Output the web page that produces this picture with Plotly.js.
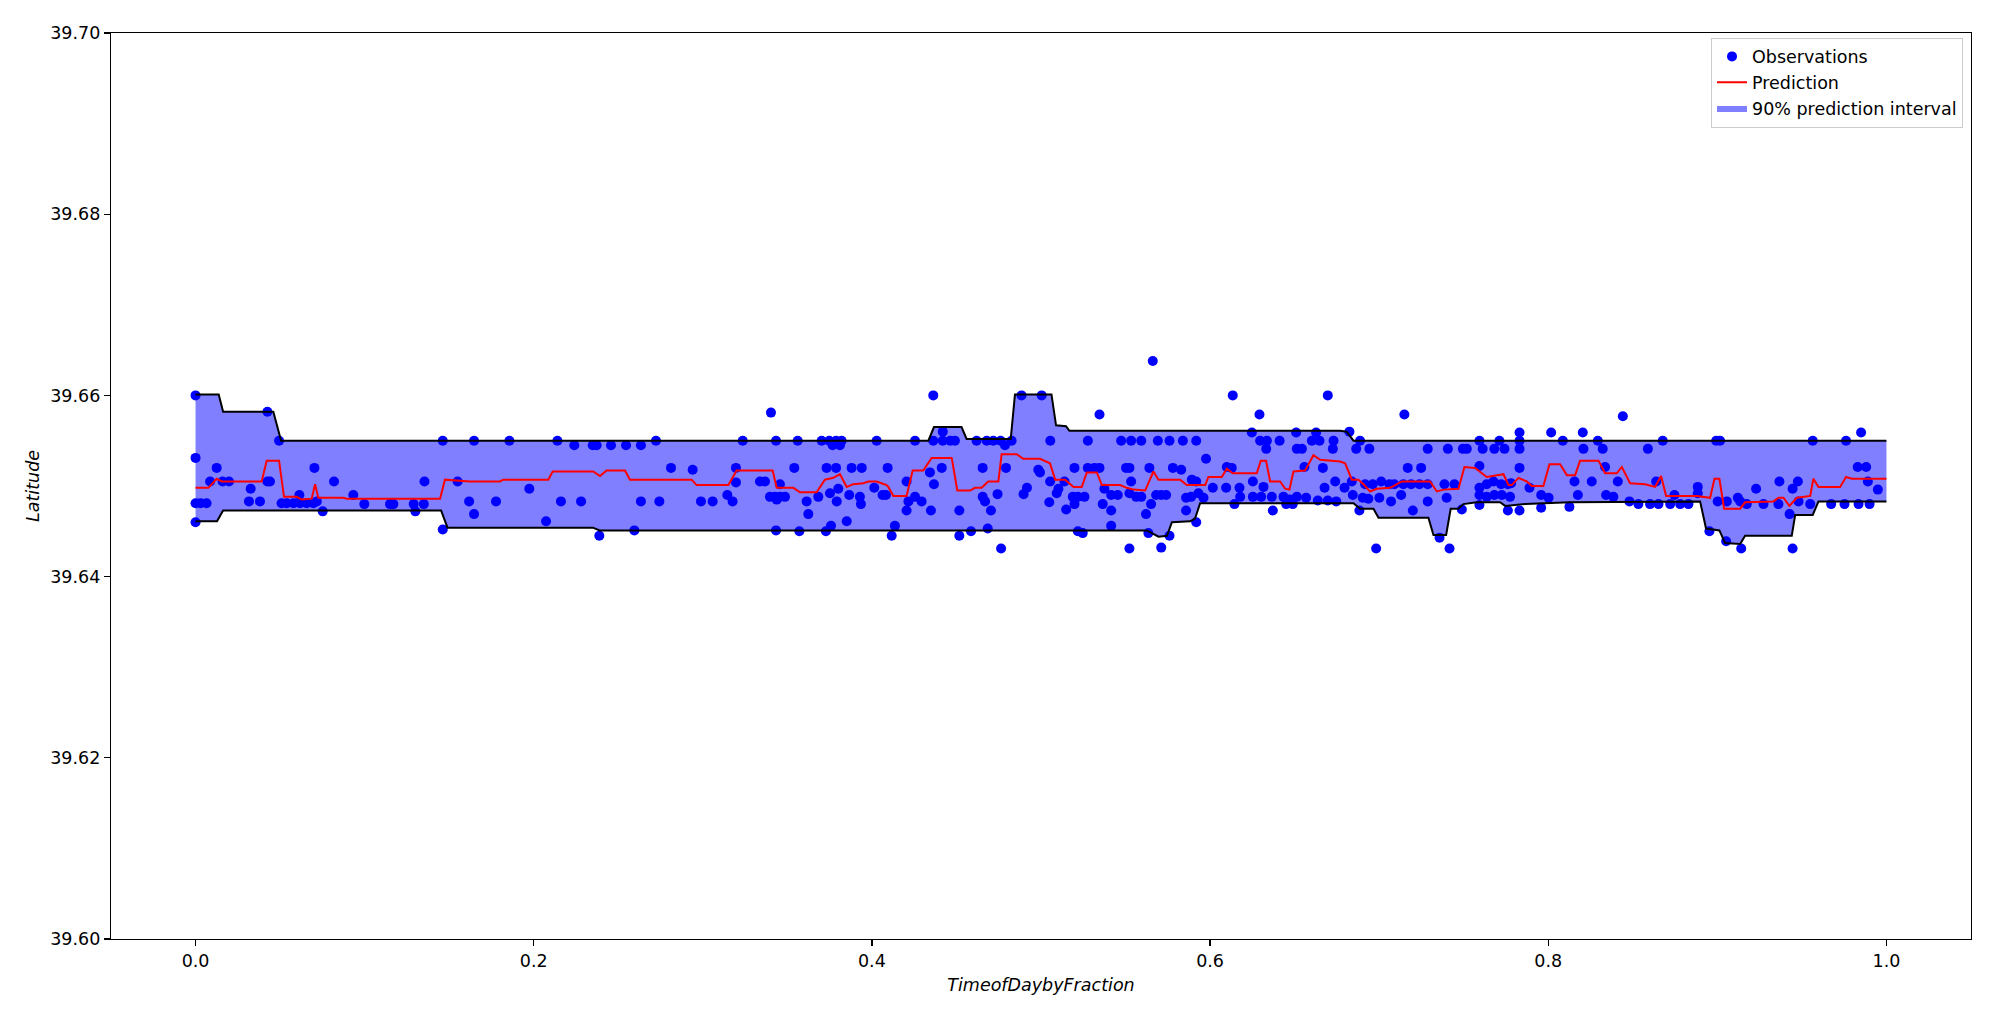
<!DOCTYPE html>
<html>
<head>
<meta charset="utf-8">
<script src="https://cdn.plot.ly/plotly-3.0.1.min.js"></script>
<style>html,body{margin:0;padding:0;background:#fff;}#chart{width:1994px;height:1016px;}</style>
</head>
<body>
<div id="chart"></div>
<script>
// Observations
const obsX = [
0,0,0,0.003,0.0065,0,0.0086,0.0125,0.016,0.0198,0.0316,0.0381,0.0326,0.0425,0.0425,0.044,0.0494,
0.0509,0.0539,0.0579,0.0614,0.0618,0.0657,0.0697,0.0717,0.0703,0.0752,0.0819,0.0933,0.0998,0.115,0.117,
0.129,0.135,0.130,0.1354,0.1462,0.1462,0.155,0.1618,
0.1647,0.1856,0.2140,0.2240,0.2349,0.2372,0.2457,0.2546,0.2634,0.2723,0.3236,0.2812,0.2940,0.3196,0.3196,
0.1974,0.1777,0.2161,0.2280,0.2634,0.2743,0.2989,0.3058,0.3145,0.3176,0.1647,0.2073,0.2388,0.2595,
0.3403,0.3433,0.3561,0.3703,0.3748,0.3788,0.3821,0.4028,0.4255,0.3811,0.3768,0.4363,0.4419,0.4419,0.4463,
0.4491,0.4363,0.4619,0.4679,0.4718,0.4761,0.4787,0.4826,0.4885,0.5004,0.5055,
0.3541,0.3732,0.3788,0.3880,0.3940,0.4093,0.4413,0.4655,0.4793,0.4984,0.4994,
0.3338,0.3368,0.3456,0.4205,0.4343,0.4367,
0.3397,0.3427,0.3456,0.3486,0.3437,0.3614,0.3683,0.3752,0.3801,0.3792,0.3866,0.3929,0.3935,0.4014,0.4063,
0.4083,0.4216,0.4255,0.4294,0.4205,0.4349,0.4517,0.4655,0.4669,0.4704,0.4743,0.4897,0.4917,0.5049,
0.3624,0.3851,0.3758,0.3433,0.3571,0.3728,0.4136,0.4117,0.4517,0.4586,0.4685,0.4764,
0.5661,0.5346,0.6134,0.6292,0.6696,0.6247,0.6509,0.6627,
0.5277,0.5474,0.5533,0.5593,0.5691,0.5760,0.5839,0.5918,0.6296,0.6336,0.6411,0.6602,0.6647,0.6730,
0.6332,0.6513,0.6543,0.6726,0.5976,
0.5198,0.5277,0.5316,0.5346,0.5503,0.5523,0.5641,0.5780,0.5829,0.6099,0.6128,0.6558,0.6667,
0.5054,0.5103,0.5139,0.5533,0.5892,0.5918,0.6253,0.6740,
0.5093,0.5188,0.5218,0.5257,0.5375,0.5415,0.5454,0.5523,0.5563,0.5593,0.5681,0.5711,0.5740,0.5858,0.5888,
0.5931,0.5961,0.6016,0.6095,0.6174,0.6178,0.6253,0.6302,0.6316,0.6365,0.6434,0.6470,0.6513,0.6568,0.6637,
0.6677,0.6696,
0.5198,0.5365,0.5651,0.6144,0.6450,0.6489,0.6746,
0.5149,0.5415,0.5621,0.5858,0.6371,
0.5415,0.5918,0.5218,0.5247,0.5635,0.5760,0.5523,0.5711,
0.7149,0.8441,0.6824,0.7830,0.8017,0.8204,
0.6887,0.7593,0.7711,0.8086,0.8293,0.7830,
0.6864,0.6942,0.7287,0.7406,0.7495,0.7518,0.7612,0.7681,0.7741,0.7830,0.8208,0.8322,
0.7169,0.7248,0.7593,0.7830,0.8336,
0.6795,0.6838,0.6917,0.6962,0.7012,0.7061,0.7090,0.7143,0.7189,0.7238,0.7287,0.7386,0.7445,0.7593,0.7636,
0.7676,0.7721,0.7761,0.7780,0.7889,0.8155,0.8257,0.8411,
0.6844,0.6903,0.6936,0.7001,0.7070,0.7130,0.7287,0.7399,0.7593,0.7636,0.7681,0.7725,0.7774,0.7958,0.8002,
0.8175,0.8342,0.8385,0.8480,
0.6883,0.7199,0.7489,0.7761,0.7830,0.7958,0.8125,0.7593,
0.7357,0.6982,0.7416,
0.9850,0.8677,0.8993,0.9016,0.9564,0.9761,0.8589,0.9830,0.9880,0.8638,0.9367,0.9476,0.9890,0.8884,0.9229,
0.9445,0.9949,0.8884,
0.8533,0.8602,0.8652,0.8721,0.8780,0.8829,0.9002,0.9056,0.9121,0.9135,0.9174,0.9273,0.9361,0.9480,0.9549,
0.9673,0.9752,0.9835,0.9900,0.8746,
0.9427,0.8953,0.9052,0.9141,0.9445
];
const obsY = [
39.660,39.6531,39.6481,39.6481,39.6481,39.6460,39.6505,39.652,39.6505,39.6505,39.6483,39.6483,39.6497,39.6582,39.6505,39.6505,39.655,
39.6481,39.6481,39.6481,39.649,39.6481,39.6481,39.6481,39.6483,39.652,39.6472,39.6505,39.649,39.648,39.648,39.648,
39.648,39.648,39.6472,39.6505,39.655,39.6452,39.6505,39.6483,
39.655,39.655,39.655,39.6545,39.6545,39.6545,39.6545,39.6545,39.6545,39.655,39.655,39.652,39.6518,39.652,39.6504,
39.6497,39.6483,39.6483,39.6483,39.6483,39.6483,39.6483,39.6483,39.649,39.6483,39.6469,39.6461,39.6445,39.6451,
39.6581,39.655,39.655,39.655,39.655,39.655,39.655,39.655,39.655,39.6545,39.6545,39.660,39.656,39.655,39.655,
39.655,39.655,39.655,39.655,39.655,39.655,39.6545,39.655,39.660,39.660,39.655,
39.652,39.652,39.652,39.652,39.652,39.652,39.652,39.652,39.652,39.6518,39.6515,
39.6505,39.6505,39.6502,39.6505,39.6515,39.6502,
39.6488,39.6488,39.6488,39.6488,39.6485,39.6483,39.6488,39.6492,39.6497,39.6483,39.649,39.6488,39.648,39.6498,39.649,
39.649,39.6483,39.6488,39.6483,39.6473,39.6473,39.6473,39.6488,39.6483,39.6473,39.6491,39.6491,39.6498,39.6482,
39.6469,39.6461,39.6456,39.6451,39.645,39.645,39.6456,39.6445,39.6445,39.645,39.6453,39.6431,
39.6638,39.6579,39.660,39.6579,39.660,39.6559,39.6559,39.6559,
39.655,39.655,39.655,39.655,39.655,39.655,39.655,39.655,39.655,39.655,39.655,39.655,39.655,39.655,
39.6541,39.6541,39.6541,39.6541,39.653,
39.652,39.652,39.652,39.652,39.652,39.652,39.652,39.652,39.6518,39.6521,39.652,39.6521,39.652,
39.6505,39.6497,39.6505,39.6505,39.6507,39.6505,39.6505,39.6505,
39.6492,39.6488,39.6488,39.6488,39.6497,39.649,39.649,39.6492,39.6488,39.6488,39.649,39.649,39.649,39.6487,39.6488,
39.6492,39.6487,39.6498,39.6498,39.6498,39.6488,39.6488,39.6488,39.6499,39.6488,39.6488,39.6485,39.6488,39.6487,39.6484,
39.6498,39.6484,
39.648,39.648,39.648,39.648,39.648,39.648,39.6483,
39.6474,39.6473,39.6469,39.6473,39.6473,
39.6456,39.646,39.645,39.6448,39.6448,39.6445,39.6431,39.6432,
39.6579,39.6577,39.656,39.6559,39.6559,39.6559,
39.655,39.655,39.655,39.655,39.655,39.655,
39.6541,39.6541,39.6541,39.6541,39.6541,39.6541,39.6541,39.6541,39.6541,39.6541,39.6541,39.6541,
39.652,39.652,39.6522,39.652,39.6521,
39.6498,39.6505,39.6502,39.6502,39.6505,39.6502,39.6502,39.6502,39.6502,39.6502,39.6502,39.6502,39.6502,39.6498,39.6502,
39.6505,39.6502,39.6502,39.6503,39.6498,39.6505,39.6505,39.6505,
39.649,39.6487,39.6486,39.6487,39.6483,39.649,39.6483,39.6487,39.649,39.6488,39.649,39.649,39.6488,39.649,39.6487,
39.649,39.649,39.6488,39.6483,
39.6473,39.6473,39.6474,39.6473,39.6473,39.6476,39.6477,39.6479,
39.6443,39.6431,39.6431,
39.6559,39.655,39.655,39.655,39.655,39.655,39.6541,39.6521,39.6521,39.6505,39.6505,39.6505,39.6505,39.6499,39.6497,
39.6497,39.6496,39.6492,
39.648,39.648,39.648,39.648,39.648,39.648,39.6483,39.6483,39.6487,39.6483,39.648,39.648,39.648,39.6483,39.648,
39.648,39.648,39.648,39.648,39.649,
39.6469,39.645,39.6439,39.6431,39.6431
];

// Prediction
const predX = [0,0.0076,0.0125,0.0155,0.0391,0.0421,0.0494,0.0523,0.0598,0.0628,0.0687,0.0707,0.0726,0.0874,0.0894,0.1446,0.1475,
0.1623,0.1800,0.1820,0.2086,0.2112,0.2352,0.2392,0.2431,0.2540,0.2569,0.2934,0.2963,0.3151,0.3200,
0.3338,0.3413,0.3437,0.3535,0.3575,0.3673,0.3722,0.3772,0.3811,0.3851,0.3890,0.3949,0.3979,0.4028,0.4087,0.4097,
0.4127,0.4205,0.4241,0.4304,0.4353,0.4472,0.4505,0.4580,0.4610,0.4649,0.4688,0.4748,0.4767,0.4856,0.4895,0.4994,0.5053,
0.5084,0.5143,0.5162,0.5192,0.5241,0.5271,0.5330,0.5360,0.5468,0.5507,0.5547,0.5616,0.5665,0.5695,0.5823,0.5862,
0.5971,0.5990,0.6069,0.6099,0.6134,0.6276,0.6300,0.6331,0.6355,0.6414,0.6444,0.6469,0.6493,0.6562,0.6611,0.6651,
0.6769,0.6799,0.6838,0.6877,0.6907,0.6946,0.6986,0.7065,0.7134,0.7301,0.7341,0.7380,0.7469,0.7504,0.7567,0.7636,
0.7735,0.7765,0.7784,0.7824,0.7873,0.7903,0.7971,0.8007,0.8070,0.8110,0.8159,0.8188,0.8297,0.8336,0.8405,0.8435,
0.8484,0.8573,0.8632,0.8667,0.8697,0.8878,0.8957,0.8983,0.9012,0.9040,0.9135,0.9164,0.9332,0.9361,0.9391,0.9426,
0.9470,0.9549,0.9568,0.9598,0.9726,0.9761,0.9795,1.0];
const predY = [39.6498,39.6498,39.6508,39.6505,39.6505,39.6528,39.6528,39.6488,39.6488,39.6485,39.6486,39.6502,39.6487,39.6487,39.6486,39.6486,39.6507,
39.6505,39.6505,39.6507,39.6507,39.6516,39.6516,39.6511,39.6517,39.6517,39.6507,39.6507,39.6501,39.6501,39.6517,
39.6517,39.6517,39.6498,39.6498,39.6493,39.6493,39.6507,39.6509,39.6513,39.6499,39.6502,39.6503,39.6505,39.6505,39.6501,39.6499,
39.6489,39.6489,39.6517,39.6517,39.6531,39.6531,39.6495,39.6495,39.6498,39.6498,39.6505,39.6505,39.6535,39.6535,39.6530,39.6530,39.6525,
39.6507,39.6507,39.6504,39.6499,39.6499,39.6515,39.6515,39.6501,39.6501,39.6498,39.6496,39.6495,39.6516,39.6507,39.6507,39.6501,
39.6501,39.6510,39.6510,39.6519,39.6514,39.6514,39.6528,39.6528,39.6505,39.6505,39.6497,39.6496,39.6516,39.6517,39.6534,39.6529,
39.6527,39.6525,39.6507,39.6507,39.6502,39.6494,39.6497,39.6498,39.6505,39.6505,39.6494,39.6496,39.6497,39.6521,39.6520,39.6510,
39.6513,39.6501,39.6501,39.6509,39.6505,39.6500,39.6500,39.6524,39.6524,39.6512,39.6512,39.6528,39.6528,39.6514,39.6514,39.6521,
39.6503,39.6502,39.6499,39.6511,39.6489,39.6489,39.6487,39.6508,39.6508,39.6475,39.6475,39.6482,39.6483,39.6487,39.6487,39.6478,
39.6487,39.6489,39.6508,39.6499,39.6499,39.6510,39.6508,39.6508];

// Upper bound of the 90% interval
const upperX = [0,0.0137,0.0163,0.046,0.0506,0.4334,0.4367,0.453,0.456,0.4821,0.4846,0.5014,0.5062,0.5089,0.5148,0.5168,0.6769,0.6808,0.6848,1.0];
const upperY = [39.6601,39.6601,39.6582,39.6582,39.6550,39.6550,39.6565,39.6565,39.6552,39.6552,39.6601,39.6601,39.6601,39.6567,39.6566,39.6561,39.6561,39.6560,39.6550,39.6550];

// Lower bound of the 90% interval
const lowerX = [0,0.0127,0.0163,0.1452,0.149,0.235,0.239,0.5626,0.5695,0.5745,0.5774,0.5882,0.5911,0.5941,0.6848,0.6887,0.6966,0.6996,
0.7291,0.7321,0.7396,0.7423,0.7469,0.7498,0.7577,0.7715,0.7745,0.7863,0.8129,0.8898,0.8933,0.9012,0.9046,0.9135,0.9164,
0.9440,0.9460,0.9564,0.9598,1.0];
const lowerY = [39.6461,39.6461,39.6473,39.6473,39.6454,39.6454,39.6451,39.6451,39.6444,39.6445,39.6460,39.6461,39.6464,39.6481,39.6481,39.6475,39.6475,39.6465,
39.6465,39.6446,39.6446,39.6475,39.6475,39.6480,39.6482,39.6482,39.6478,39.6480,39.6482,39.6483,39.6453,39.6451,39.6437,39.6436,39.6445,
39.6445,39.6468,39.6468,39.6483,39.6483];

const xTickVals = [0, 0.2, 0.4, 0.6, 0.8, 1.0];
const yTickVals = [39.60, 39.62, 39.64, 39.66, 39.68, 39.70];

const FONT = 'DejaVu Sans, Liberation Sans, sans-serif';

const bandX = upperX.concat(lowerX.slice().reverse());
const bandY = upperY.concat(lowerY.slice().reverse());

const traces = [
  {
    x: bandX, y: bandY, type: 'scatter', mode: 'lines', fill: 'toself',
    fillcolor: 'rgba(0,0,255,0.5)', line: {width: 0, color: 'rgba(0,0,0,0)'},
    name: '90% prediction interval', legendrank: 3, hoverinfo: 'skip'
  },
  {
    x: obsX, y: obsY, type: 'scatter', mode: 'markers',
    marker: {color: '#0000ff', size: 10}, name: 'Observations', legendrank: 1
  },
  {
    x: predX, y: predY, type: 'scatter', mode: 'lines',
    line: {color: '#ff0000', width: 2}, name: 'Prediction', legendrank: 2
  },
  {
    x: upperX, y: upperY, type: 'scatter', mode: 'lines',
    line: {color: '#000000', width: 2}, showlegend: false
  },
  {
    x: lowerX, y: lowerY, type: 'scatter', mode: 'lines',
    line: {color: '#000000', width: 2}, showlegend: false
  }
];

const layout = {
  width: 1994, height: 1016,
  margin: {l: 111, r: 23, t: 33, b: 77, pad: 0},
  paper_bgcolor: '#ffffff', plot_bgcolor: '#ffffff',
  font: {family: FONT, size: 17.5, color: '#000'},
  showlegend: true,
  legend: {
    x: 0.9957, xanchor: 'right', y: 0.995, yanchor: 'top',
    bgcolor: 'rgba(255,255,255,0.8)', bordercolor: '#cccccc', borderwidth: 1,
    font: {family: FONT, size: 17.5, color: '#000'},
    traceorder: 'normal', tracegroupgap: 0
  },
  xaxis: {
    range: [-0.05, 1.05], tickvals: xTickVals, tickformat: '.1f',
    showgrid: false, zeroline: false, showline: true, mirror: true,
    linecolor: '#000', linewidth: 1.2, ticks: 'outside', ticklen: 6, tickwidth: 1.2, tickcolor: '#000',
    tickfont: {family: FONT, size: 17.5, color: '#000'},
    title: {text: 'TimeofDaybyFraction', standoff: 8, font: {family: FONT, size: 17.5, color: '#000', style: 'italic'}}
  },
  yaxis: {
    range: [39.60, 39.70], tickvals: yTickVals, tickformat: '.2f',
    showgrid: false, zeroline: false, showline: true, mirror: true,
    linecolor: '#000', linewidth: 1.2, ticks: 'outside', ticklen: 6, tickwidth: 1.2, tickcolor: '#000',
    tickfont: {family: FONT, size: 17.5, color: '#000'},
    title: {text: 'Latitude', standoff: 6, font: {family: FONT, size: 17.5, color: '#000', style: 'italic'}}
  }
};

Plotly.newPlot('chart', traces, layout, {displayModeBar: false, staticPlot: true});
</script>
</body>
</html>
